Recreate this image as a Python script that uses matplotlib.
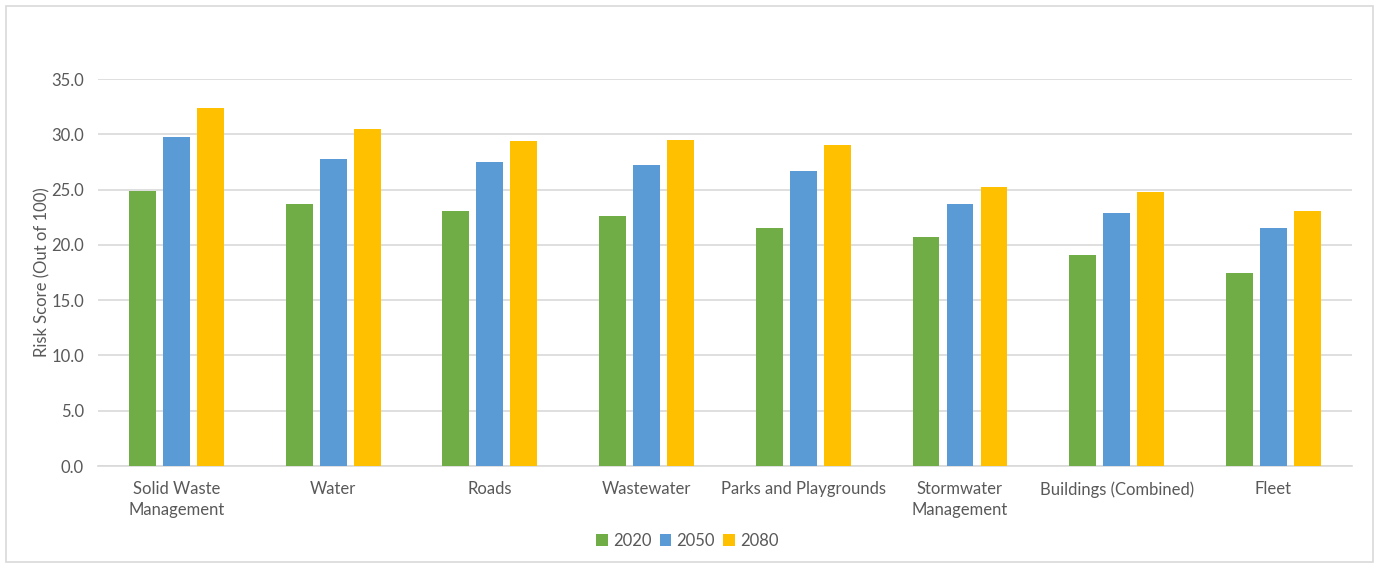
import numpy as np
import matplotlib.pyplot as plt
from matplotlib.patches import Rectangle

categories = ['Solid Waste\nManagement', 'Water', 'Roads', 'Wastewater',
              'Parks and Playgrounds', 'Stormwater\nManagement',
              'Buildings (Combined)', 'Fleet']
years = ['2020', '2050', '2080']
s2020 = [24.9, 23.7, 23.1, 22.6, 21.5, 20.7, 19.1, 17.5]
s2050 = [29.8, 27.8, 27.5, 27.2, 26.7, 23.7, 22.9, 21.5]
s2080 = [32.4, 30.5, 29.4, 29.5, 29.0, 25.2, 24.8, 23.1]
colors = ['#70AD47', '#5B9BD5', '#FFC000']

plt.rcParams['font.family'] = ['Lato', 'DejaVu Sans']
txt = '#595959'
fs = 12

fig = plt.figure(figsize=(13.78, 5.65), dpi=100)
ax = fig.add_axes([0.0711, 0.1752, 0.9099, 0.6848])

# chart border like the excel frame
fig.patches.append(Rectangle((6 / 1378, 3 / 565), 1367 / 1378, 556 / 565,
                             transform=fig.transFigure, fill=False,
                             edgecolor='#D9D9D9', linewidth=1.2))

x = np.arange(len(categories))
w = 0.172
step = 0.217
for i, (vals, yr) in enumerate(zip([s2020, s2050, s2080], years)):
    ax.bar(x + (i - 1) * step, vals, width=w, color=colors[i], label=yr, zorder=3)

ax.set_xlim(-0.5, len(categories) - 0.5)
ax.set_ylim(0, 35)
ax.set_yticks(np.arange(0, 35.1, 5))
ax.set_yticklabels([f'{v:.1f}' for v in np.arange(0, 35.1, 5)])
ax.set_xticks(x)
ax.set_xticklabels(categories, linespacing=1.35)
ax.grid(axis='y', color='#D9D9D9', linewidth=1.2, zorder=0)
for s in ['top', 'right', 'left']:
    ax.spines[s].set_visible(False)
ax.spines['bottom'].set_color('#D9D9D9')
ax.spines['bottom'].set_linewidth(1.2)
ax.tick_params(axis='both', length=0, colors=txt, labelsize=fs)
ax.tick_params(axis='x', pad=11)
ax.tick_params(axis='y', pad=10)
ax.set_ylabel('Risk Score (Out of 100)', color=txt, fontsize=fs, labelpad=1)

ax.legend(loc='center', bbox_to_anchor=(0.47, -0.194), ncol=3, frameon=False,
          fontsize=fs, labelcolor=txt, handlelength=0.7, handleheight=0.7,
          handletextpad=0.3, columnspacing=0.5)

fig.savefig('out.png', dpi=100)
